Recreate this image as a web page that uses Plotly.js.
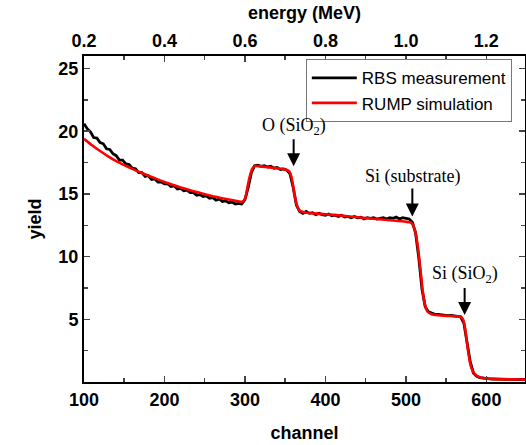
<!DOCTYPE html>
<html><head><meta charset="utf-8">
<script src="https://cdn.plot.ly/plotly-3.0.1.min.js"></script>
<style>html,body{margin:0;padding:0;background:#fff}</style>
</head><body><div id="chart" style="width:526px;height:445px"></div>
<script>
// RBS measurement (black)
const measChannel = [100,104,108,112,116,120,124,128,132,136,140,144,148,152,156,160,164,168,172,176,180,184,188,192,196,200,204,208,212,216,220,224,228,232,236,240,244,248,252,256,260,264,268,272,276,280,284,288,292,296,300,304,308,312,316,320,324,328,332,336,340,344,348,352,356,360,364,368,372,376,380,384,388,392,396,400,404,408,412,416,420,424,428,432,436,440,444,448,452,456,460,464,468,472,476,480,484,488,492,496,500,504,508,512,516,520,524,528,532,536,540,544,548,552,556,560,564,568,572,576,580,584,588,592,596,600,604,608,612,616,620,624,628,632,636,640,644,648];
const measYield = [20.6,20.2,19.95,19.5,19.45,19.1,19.0,18.6,18.55,18.2,18.05,17.7,17.7,17.4,17.35,17.05,17.0,16.7,16.7,16.4,16.45,16.15,16.2,15.95,15.95,15.8,15.8,15.6,15.65,15.4,15.45,15.25,15.3,15.1,15.1,14.9,14.95,14.8,14.85,14.65,14.7,14.5,14.6,14.4,14.45,14.3,14.35,14.2,14.25,14.2,14.55,15.5,16.7,17.25,17.3,17.2,17.25,17.15,17.2,17.05,17.1,16.95,17.0,16.9,16.6,15.5,14.1,13.6,13.45,13.6,13.45,13.5,13.35,13.45,13.35,13.3,13.4,13.25,13.3,13.2,13.3,13.15,13.2,13.1,13.2,13.1,13.15,13.0,13.1,13.05,13.1,13.0,13.05,13.1,13.0,13.1,13.05,13.15,13.0,13.1,13.05,13.0,12.75,11.9,9.9,7.4,6.0,5.6,5.5,5.4,5.4,5.35,5.35,5.3,5.32,5.28,5.27,5.2,4.7,3.3,1.6,0.7,0.45,0.35,0.3,0.27,0.25,0.24,0.23,0.22,0.22,0.21,0.22,0.21,0.21,0.2,0.21,0.2];
// RUMP simulation (red)
const simChannel = [100,110,120,130,140,150,160,170,180,190,200,210,220,230,240,250,260,270,280,290,295,298,301,303,306,309,312,316,320,330,340,350,355,358,361,364,368,375,380,400,420,440,460,480,500,506,509,512,515,518,521,524,527,532,540,555,568,571,573,575,577,579,581,584,588,594,600,615,648];
const simYield = [19.4,18.88,18.42,18.0,17.62,17.3,17.0,16.72,16.45,16.2,15.95,15.73,15.52,15.33,15.15,14.98,14.82,14.68,14.55,14.43,14.38,14.42,14.8,15.5,16.4,17.0,17.22,17.22,17.2,17.12,17.05,16.95,16.8,16.3,15.2,14.2,13.65,13.52,13.48,13.38,13.27,13.14,13.02,12.9,12.78,12.72,12.5,11.9,10.7,9.0,7.2,6.1,5.6,5.4,5.32,5.26,5.2,5.0,4.5,3.6,2.6,1.8,1.2,0.75,0.5,0.33,0.28,0.22,0.2];
const seriesNames = ['RBS measurement','RUMP simulation'];
const channelTicks = [100,200,300,400,500,600];
const energyTicks = [0.2,0.4,0.6,0.8,1.0,1.2];
const energyTickText = ['0.2','0.4','0.6','0.8','1.0','1.2'];
const yieldTicks = [5,10,15,20,25];
const labels = [
  {text:'O (SiO<sub>2</sub>)', ch:360.5, y:17.2},
  {text:'Si (substrate)', ch:508, y:13.2},
  {text:'Si (SiO<sub>2</sub>)', ch:573, y:5.35}
];

const tickFont = {family:'Liberation Sans, Arial, sans-serif', size:18, color:'#000', weight:'bold'};
const titleFont = {family:'Liberation Sans, Arial, sans-serif', size:18, color:'#000', weight:'bold'};

const traces = [
  {x:measChannel, y:measYield, name:seriesNames[0], type:'scatter', mode:'lines',
   line:{color:'#000', width:2.8}},
  {x:simChannel, y:simYield, name:seriesNames[1], type:'scatter', mode:'lines',
   line:{color:'#ff0000', width:2.6, shape:'spline', smoothing:0.5}},
  {x:[0.2,1.3], y:[null,null], xaxis:'x2', showlegend:false, hoverinfo:'skip', mode:'lines'}
];

const layout = {
  width:526, height:445,
  margin:{l:84, r:1, t:56, b:63, pad:0},
  paper_bgcolor:'#fff', plot_bgcolor:'#fff',
  showlegend:true,
  legend:{x:0.503, y:0.99, xanchor:'left', yanchor:'top', bgcolor:'#fff',
    bordercolor:'#777', borderwidth:1,
    font:{family:'Liberation Sans, Arial, sans-serif', size:17, color:'#000'},
    tracegroupgap:0, itemwidth:45},
  xaxis:{range:[100,648], tickvals:channelTicks, ticks:'inside', ticklen:6, tickwidth:1.5,
    showline:true, linewidth:2, linecolor:'#000', showgrid:false, zeroline:false,
    tickfont:tickFont, minor:{dtick:50, tick0:100, ticks:'inside', ticklen:4, tickwidth:1.5},
    title:{text:'channel', font:titleFont, standoff:18}},
  xaxis2:{range:[0.2,1.296], overlaying:'x', side:'top', tickvals:energyTicks, ticktext:energyTickText,
    ticks:'inside', ticklen:6, tickwidth:1.5, showline:true, linewidth:2, linecolor:'#000',
    showgrid:false, zeroline:false, tickfont:tickFont,
    minor:{dtick:0.1, tick0:0.2, ticks:'inside', ticklen:4, tickwidth:1.5},
    title:{text:'energy (MeV)', font:titleFont, standoff:6}},
  yaxis:{range:[0,26], tickvals:yieldTicks, ticks:'inside', ticklen:6, tickwidth:1.5,
    showline:true, linewidth:2, linecolor:'#000', mirror:'ticks', showgrid:false, zeroline:false,
    tickfont:tickFont, minor:{dtick:2.5, tick0:0, ticks:'inside', ticklen:4, tickwidth:1.5},
    title:{text:'yield', font:titleFont, standoff:12}},
  annotations: labels.map(l => ({x:l.ch, y:l.y, xref:'x', yref:'y', text:l.text,
    showarrow:true, ax:0, ay:-40, arrowhead:2, arrowsize:1.3, arrowwidth:2, arrowcolor:'#000',
    standoff:0, startstandoff:0,
    font:{family:'Liberation Serif, Times New Roman, serif', size:18, color:'#000'}}))
};

Plotly.newPlot('chart', traces, layout, {displayModeBar:false, staticPlot:true});
</script></body></html>
